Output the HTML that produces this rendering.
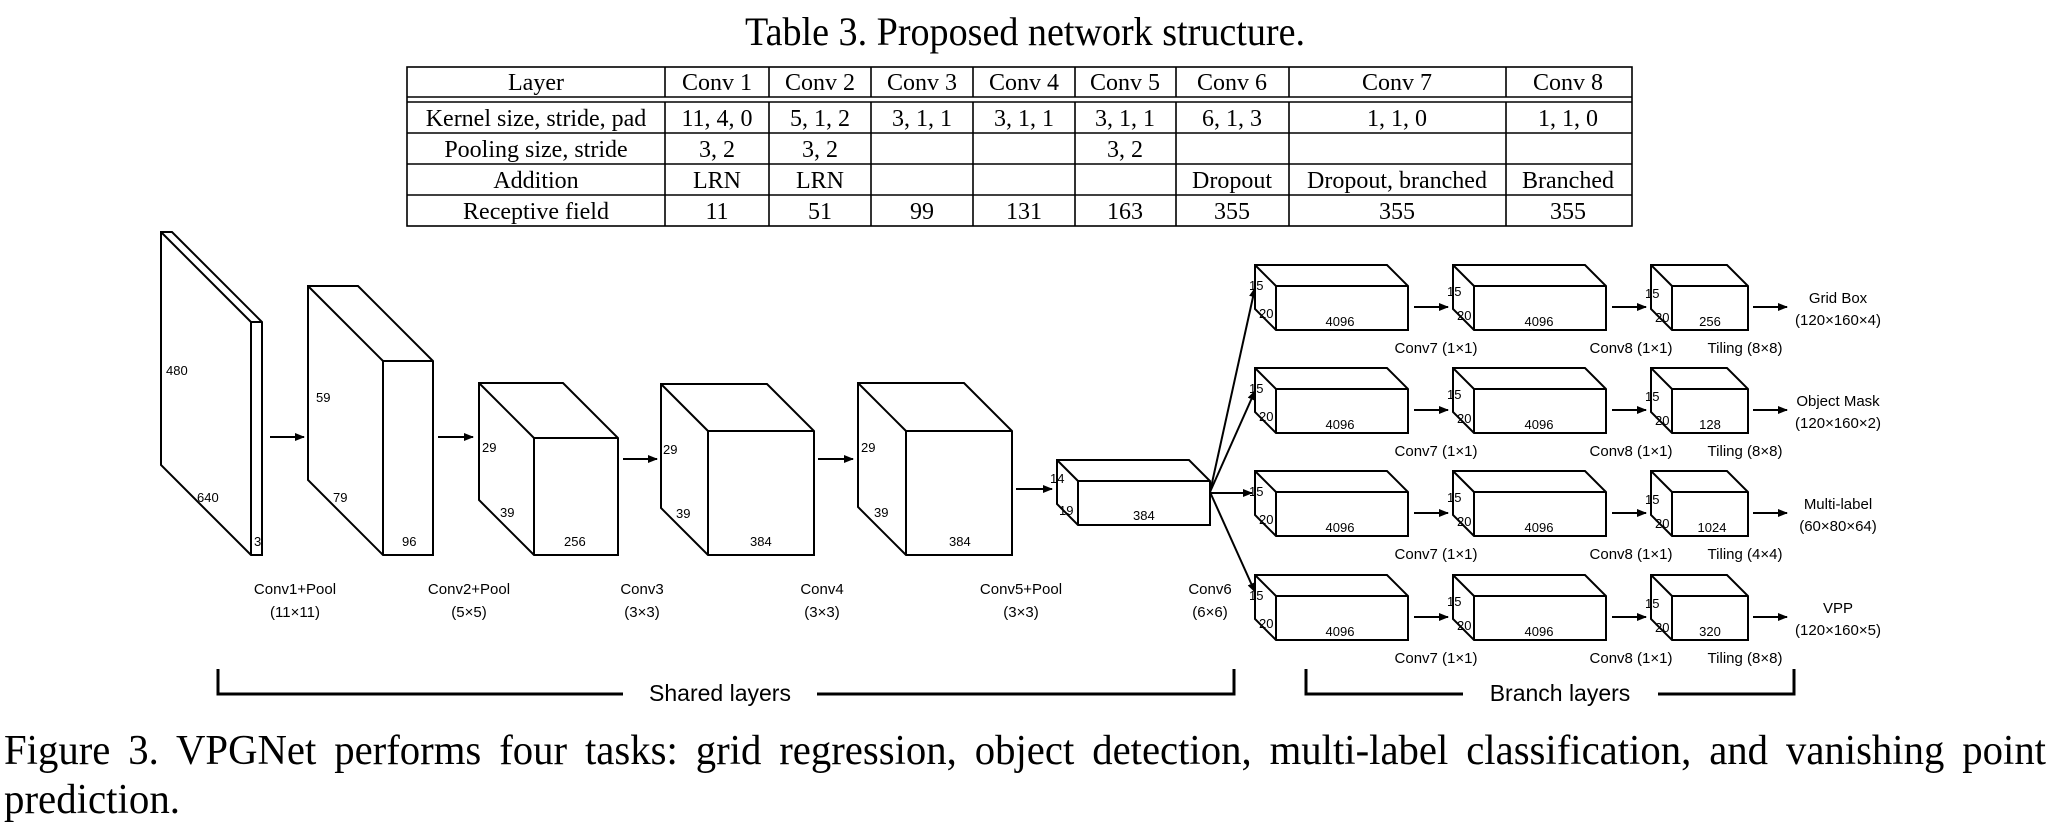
<!DOCTYPE html>
<html><head><meta charset="utf-8"><style>
html,body{margin:0;padding:0;background:#fff;}
svg{display:block;}
.t{font-family:"Liberation Serif",serif;fill:#000;}
.s{font-family:"Liberation Sans",sans-serif;fill:#000;}
.b{fill:#fff;stroke:#000;stroke-width:2;stroke-linejoin:miter;}
.l{fill:none;stroke:#000;stroke-width:2;}
.a{stroke:#000;stroke-width:2;fill:none;}
</style></head><body>
<svg width="2052" height="830" viewBox="0 0 2052 830" xmlns="http://www.w3.org/2000/svg">
<defs>
<marker id="ah" markerWidth="10" markerHeight="10" refX="9" refY="5" orient="auto" markerUnits="userSpaceOnUse">
<path d="M0,1 L10,5 L0,9 z" fill="#000"/>
</marker>
</defs>

<text class="t" x="1025" y="45" font-size="40" text-anchor="middle" textLength="560" lengthAdjust="spacingAndGlyphs">Table 3. Proposed network structure.</text>

<g stroke="#000" stroke-width="1.6" fill="none">
<rect x="407" y="67" width="1225" height="159"/>
<line x1="407" y1="97" x2="1632" y2="97"/>
<line x1="407" y1="102" x2="1632" y2="102"/>
<line x1="407" y1="133" x2="1632" y2="133"/>
<line x1="407" y1="164" x2="1632" y2="164"/>
<line x1="407" y1="195" x2="1632" y2="195"/>
<line x1="665" y1="67" x2="665" y2="97"/><line x1="665" y1="102" x2="665" y2="226"/>
<line x1="769" y1="67" x2="769" y2="97"/><line x1="769" y1="102" x2="769" y2="226"/>
<line x1="871" y1="67" x2="871" y2="97"/><line x1="871" y1="102" x2="871" y2="226"/>
<line x1="973" y1="67" x2="973" y2="97"/><line x1="973" y1="102" x2="973" y2="226"/>
<line x1="1075" y1="67" x2="1075" y2="97"/><line x1="1075" y1="102" x2="1075" y2="226"/>
<line x1="1176" y1="67" x2="1176" y2="97"/><line x1="1176" y1="102" x2="1176" y2="226"/>
<line x1="1289" y1="67" x2="1289" y2="97"/><line x1="1289" y1="102" x2="1289" y2="226"/>
<line x1="1506" y1="67" x2="1506" y2="97"/><line x1="1506" y1="102" x2="1506" y2="226"/>
</g>
<g class="t" font-size="24" text-anchor="middle">
<text x="536" y="90">Layer</text><text x="717" y="90">Conv 1</text><text x="820" y="90">Conv 2</text><text x="922" y="90">Conv 3</text><text x="1024" y="90">Conv 4</text><text x="1125" y="90">Conv 5</text><text x="1232" y="90">Conv 6</text><text x="1397" y="90">Conv 7</text><text x="1568" y="90">Conv 8</text>
<text x="536" y="126">Kernel size, stride, pad</text><text x="717" y="126">11, 4, 0</text><text x="820" y="126">5, 1, 2</text><text x="922" y="126">3, 1, 1</text><text x="1024" y="126">3, 1, 1</text><text x="1125" y="126">3, 1, 1</text><text x="1232" y="126">6, 1, 3</text><text x="1397" y="126">1, 1, 0</text><text x="1568" y="126">1, 1, 0</text>
<text x="536" y="157">Pooling size, stride</text><text x="717" y="157">3, 2</text><text x="820" y="157">3, 2</text><text x="1125" y="157">3, 2</text>
<text x="536" y="188">Addition</text><text x="717" y="188">LRN</text><text x="820" y="188">LRN</text><text x="1232" y="188">Dropout</text><text x="1397" y="188">Dropout, branched</text><text x="1568" y="188">Branched</text>
<text x="536" y="219">Receptive field</text><text x="717" y="219">11</text><text x="820" y="219">51</text><text x="922" y="219">99</text><text x="1024" y="219">131</text><text x="1125" y="219">163</text><text x="1232" y="219">355</text><text x="1397" y="219">355</text><text x="1568" y="219">355</text>
</g>

<polygon class="b" points="161,232 172,232 262,322 262,555 251,555 161,465"/>
<path class="l" d="M251,322H262M251,322V555M251,322L161,232"/>
<polygon class="b" points="308,286 358,286 433,361 433,555 383,555 308,480"/>
<path class="l" d="M383,361H433M383,361V555M383,361L308,286"/>
<polygon class="b" points="479,383 563,383 618,438 618,555 534,555 479,500"/>
<path class="l" d="M534,438H618M534,438V555M534,438L479,383"/>
<polygon class="b" points="661,384 767,384 814,431 814,555 708,555 661,508"/>
<path class="l" d="M708,431H814M708,431V555M708,431L661,384"/>
<polygon class="b" points="858,383 964,383 1012,431 1012,555 906,555 858,507"/>
<path class="l" d="M906,431H1012M906,431V555M906,431L858,383"/>
<polygon class="b" points="1057,460 1189,460 1210,481 1210,525 1078,525 1057,504"/>
<path class="l" d="M1078,481H1210M1078,481V525M1078,481L1057,460"/>

<g class="s" font-size="13">
<text x="166" y="375">480</text><text x="197" y="502">640</text><text x="254" y="546">3</text>
<text x="316" y="402">59</text><text x="333" y="502">79</text><text x="402" y="546">96</text>
<text x="482" y="452">29</text><text x="500" y="517">39</text><text x="564" y="546">256</text>
<text x="663" y="454">29</text><text x="676" y="518">39</text><text x="750" y="546">384</text>
<text x="861" y="452">29</text><text x="874" y="517">39</text><text x="949" y="546">384</text>
<text x="1050" y="483">14</text><text x="1059" y="515">19</text><text x="1133" y="520">384</text>
</g>

<g class="a" marker-end="url(#ah)">
<line x1="270" y1="437" x2="304" y2="437"/>
<line x1="438" y1="437" x2="473" y2="437"/>
<line x1="623" y1="459" x2="657" y2="459"/>
<line x1="818" y1="459" x2="853" y2="459"/>
<line x1="1016" y1="489" x2="1052" y2="489"/>
</g>
<g class="a" stroke-width="1.6" marker-end="url(#ah)">
<line x1="1210" y1="492" x2="1255" y2="288"/>
<line x1="1210" y1="492" x2="1255" y2="391"/>
<line x1="1210" y1="493" x2="1252" y2="493"/>
<line x1="1210" y1="492" x2="1255" y2="592"/>
</g>

<g class="s" font-size="15" text-anchor="middle">
<text x="295" y="594">Conv1+Pool</text><text x="295" y="617">(11×11)</text>
<text x="469" y="594">Conv2+Pool</text><text x="469" y="617">(5×5)</text>
<text x="642" y="594">Conv3</text><text x="642" y="617">(3×3)</text>
<text x="822" y="594">Conv4</text><text x="822" y="617">(3×3)</text>
<text x="1021" y="594">Conv5+Pool</text><text x="1021" y="617">(3×3)</text>
<text x="1210" y="594">Conv6</text><text x="1210" y="617">(6×6)</text>
</g>

<g>
<polygon class="b" points="1255,265 1387,265 1408,286 1408,330 1276,330 1255,309"/>
<path class="l" d="M1276,286H1408M1276,286V330M1276,286L1255,265"/>
<polygon class="b" points="1453,265 1585,265 1606,286 1606,330 1474,330 1453,309"/>
<path class="l" d="M1474,286H1606M1474,286V330M1474,286L1453,265"/>
<polygon class="b" points="1651,265 1727,265 1748,286 1748,330 1672,330 1651,309"/>
<path class="l" d="M1672,286H1748M1672,286V330M1672,286L1651,265"/>
<g class="a" marker-end="url(#ah)"><line x1="1414" y1="307" x2="1448" y2="307"/><line x1="1612" y1="307" x2="1646" y2="307"/><line x1="1753" y1="307" x2="1787" y2="307"/></g>
<g class="s" font-size="13"><text x="1249" y="290">15</text><text x="1259" y="318">20</text><text x="1340" y="326" text-anchor="middle">4096</text>
<text x="1447" y="296">15</text><text x="1457" y="320">20</text><text x="1539" y="326" text-anchor="middle">4096</text>
<text x="1645" y="298">15</text><text x="1655" y="322">20</text><text x="1710" y="326" text-anchor="middle">256</text></g>
<g class="s" font-size="15" text-anchor="middle"><text x="1436" y="353">Conv7 (1×1)</text><text x="1631" y="353">Conv8 (1×1)</text><text x="1745" y="353">Tiling (8×8)</text>
<text x="1838" y="303">Grid Box</text><text x="1838" y="325">(120×160×4)</text></g>
</g>

<g transform="translate(0,103)">
<polygon class="b" points="1255,265 1387,265 1408,286 1408,330 1276,330 1255,309"/>
<path class="l" d="M1276,286H1408M1276,286V330M1276,286L1255,265"/>
<polygon class="b" points="1453,265 1585,265 1606,286 1606,330 1474,330 1453,309"/>
<path class="l" d="M1474,286H1606M1474,286V330M1474,286L1453,265"/>
<polygon class="b" points="1651,265 1727,265 1748,286 1748,330 1672,330 1651,309"/>
<path class="l" d="M1672,286H1748M1672,286V330M1672,286L1651,265"/>
<g class="a" marker-end="url(#ah)"><line x1="1414" y1="307" x2="1448" y2="307"/><line x1="1612" y1="307" x2="1646" y2="307"/><line x1="1753" y1="307" x2="1787" y2="307"/></g>
<g class="s" font-size="13"><text x="1249" y="290">15</text><text x="1259" y="318">20</text><text x="1340" y="326" text-anchor="middle">4096</text>
<text x="1447" y="296">15</text><text x="1457" y="320">20</text><text x="1539" y="326" text-anchor="middle">4096</text>
<text x="1645" y="298">15</text><text x="1655" y="322">20</text><text x="1710" y="326" text-anchor="middle">128</text></g>
<g class="s" font-size="15" text-anchor="middle"><text x="1436" y="353">Conv7 (1×1)</text><text x="1631" y="353">Conv8 (1×1)</text><text x="1745" y="353">Tiling (8×8)</text>
<text x="1838" y="303">Object Mask</text><text x="1838" y="325">(120×160×2)</text></g>
</g>

<g transform="translate(0,206)">
<polygon class="b" points="1255,265 1387,265 1408,286 1408,330 1276,330 1255,309"/>
<path class="l" d="M1276,286H1408M1276,286V330M1276,286L1255,265"/>
<polygon class="b" points="1453,265 1585,265 1606,286 1606,330 1474,330 1453,309"/>
<path class="l" d="M1474,286H1606M1474,286V330M1474,286L1453,265"/>
<polygon class="b" points="1651,265 1727,265 1748,286 1748,330 1672,330 1651,309"/>
<path class="l" d="M1672,286H1748M1672,286V330M1672,286L1651,265"/>
<g class="a" marker-end="url(#ah)"><line x1="1414" y1="307" x2="1448" y2="307"/><line x1="1612" y1="307" x2="1646" y2="307"/><line x1="1753" y1="307" x2="1787" y2="307"/></g>
<g class="s" font-size="13"><text x="1249" y="290">15</text><text x="1259" y="318">20</text><text x="1340" y="326" text-anchor="middle">4096</text>
<text x="1447" y="296">15</text><text x="1457" y="320">20</text><text x="1539" y="326" text-anchor="middle">4096</text>
<text x="1645" y="298">15</text><text x="1655" y="322">20</text><text x="1712" y="326" text-anchor="middle">1024</text></g>
<g class="s" font-size="15" text-anchor="middle"><text x="1436" y="353">Conv7 (1×1)</text><text x="1631" y="353">Conv8 (1×1)</text><text x="1745" y="353">Tiling (4×4)</text>
<text x="1838" y="303">Multi-label</text><text x="1838" y="325">(60×80×64)</text></g>
</g>

<g transform="translate(0,310)">
<polygon class="b" points="1255,265 1387,265 1408,286 1408,330 1276,330 1255,309"/>
<path class="l" d="M1276,286H1408M1276,286V330M1276,286L1255,265"/>
<polygon class="b" points="1453,265 1585,265 1606,286 1606,330 1474,330 1453,309"/>
<path class="l" d="M1474,286H1606M1474,286V330M1474,286L1453,265"/>
<polygon class="b" points="1651,265 1727,265 1748,286 1748,330 1672,330 1651,309"/>
<path class="l" d="M1672,286H1748M1672,286V330M1672,286L1651,265"/>
<g class="a" marker-end="url(#ah)"><line x1="1414" y1="307" x2="1448" y2="307"/><line x1="1612" y1="307" x2="1646" y2="307"/><line x1="1753" y1="307" x2="1787" y2="307"/></g>
<g class="s" font-size="13"><text x="1249" y="290">15</text><text x="1259" y="318">20</text><text x="1340" y="326" text-anchor="middle">4096</text>
<text x="1447" y="296">15</text><text x="1457" y="320">20</text><text x="1539" y="326" text-anchor="middle">4096</text>
<text x="1645" y="298">15</text><text x="1655" y="322">20</text><text x="1710" y="326" text-anchor="middle">320</text></g>
<g class="s" font-size="15" text-anchor="middle"><text x="1436" y="353">Conv7 (1×1)</text><text x="1631" y="353">Conv8 (1×1)</text><text x="1745" y="353">Tiling (8×8)</text>
<text x="1838" y="303">VPP</text><text x="1838" y="325">(120×160×5)</text></g>
</g>

<path d="M218,669V694H623M817,694H1234V669" fill="none" stroke="#000" stroke-width="3"/>
<text class="s" x="720" y="701" font-size="23" text-anchor="middle">Shared layers</text>
<path d="M1306,669V694H1463M1658,694H1794V669" fill="none" stroke="#000" stroke-width="3"/>
<text class="s" x="1560" y="701" font-size="23" text-anchor="middle">Branch layers</text>

<text class="t" x="4" y="764" font-size="42" textLength="2042" lengthAdjust="spacingAndGlyphs" word-spacing="8">Figure 3.  VPGNet performs four tasks: grid regression, object detection, multi-label classification, and vanishing point</text>
<text class="t" x="4" y="813" font-size="42" textLength="176" lengthAdjust="spacingAndGlyphs">prediction.</text>
</svg>
</body></html>
